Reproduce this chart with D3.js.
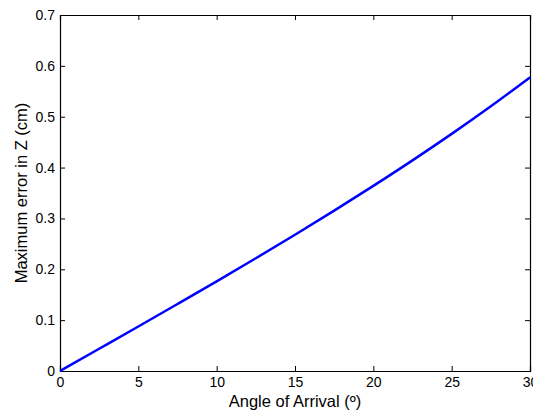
<!DOCTYPE html>
<html>
<head>
<meta charset="utf-8">
<script src="https://cdn.jsdelivr.net/npm/d3@7"></script>
<style>
  body { margin: 0; background: #fff; }
  text { font-family: "Liberation Sans", Arial, sans-serif; }
</style>
</head>
<body>
<div id="chart"></div>
<script>
// Max error in Z vs angle of arrival

// values
var angles = [0, 2.5, 5, 7.5, 10, 12.5, 15, 17.5, 20, 22.5, 25, 27.5, 30];
var errors = [0, 0.0437, 0.0875, 0.1317, 0.1763, 0.2217, 0.2679, 0.3153, 0.364, 0.4142, 0.4663, 0.5206, 0.5774];
var xTicks = [0, 5, 10, 15, 20, 25, 30];
var yTicks = [0, 0.1, 0.2, 0.3, 0.4, 0.5, 0.6, 0.7];

var svgWidth = 533;
var svgHeight = 417;
var margin = { top: 15, right: 3, bottom: 46, left: 60 };
var width = svgWidth - margin.left - margin.right;
var height = svgHeight - margin.top - margin.bottom;

var svg = d3.select("#chart")
  .append("svg")
  .attr("width", svgWidth)
  .attr("height", svgHeight);

var chartGroup = svg.append("g")
  .attr("transform", `translate(${margin.left},${margin.top})`);

var xScale = d3.scaleLinear().domain([0, 30]).range([0, width]);
var yScale = d3.scaleLinear().domain([0, 0.7]).range([height, 0]);

// axes, ticks pointing inward like matlab
var bottomAxis = d3.axisBottom(xScale).tickValues(xTicks).tickSize(-5).tickPadding(6).tickFormat(d3.format("d"));
var leftAxis = d3.axisLeft(yScale).tickValues(yTicks).tickSize(-5).tickPadding(5).tickFormat(d => d === 0 ? "0" : d3.format(".1f")(d));
var topAxis = d3.axisTop(xScale).tickValues(xTicks).tickSize(-5).tickFormat("");
var rightAxis = d3.axisRight(yScale).tickValues(yTicks).tickSize(-5).tickFormat("");

function styleAxis(g) {
  g.select(".domain").attr("stroke", "#000").attr("stroke-width", 1.2);
  g.selectAll(".tick line").attr("stroke", "#000");
  g.selectAll(".tick text").attr("fill", "#000").style("font-size", "14px");
}

chartGroup.append("g")
  .attr("transform", `translate(0, ${height})`)
  .call(bottomAxis).call(styleAxis);
chartGroup.append("g").call(leftAxis).call(styleAxis);
chartGroup.append("g").call(topAxis).call(styleAxis);
chartGroup.append("g")
  .attr("transform", `translate(${width}, 0)`)
  .call(rightAxis).call(styleAxis);

// the curve
var line = d3.line()
  .x((d, i) => xScale(angles[i]))
  .y(d => yScale(d))
  .curve(d3.curveMonotoneX);

chartGroup.append("path")
  .datum(errors)
  .attr("d", line)
  .attr("fill", "none")
  .attr("stroke", "#0000ff")
  .attr("stroke-width", 2.5);

// axis labels
chartGroup.append("text")
  .attr("x", width / 2)
  .attr("y", height + 36)
  .attr("text-anchor", "middle")
  .style("font-size", "16.5px")
  .text("Angle of Arrival (º)");

chartGroup.append("text")
  .attr("transform", "rotate(-90)")
  .attr("x", -height / 2)
  .attr("y", -33)
  .attr("text-anchor", "middle")
  .style("font-size", "16.5px")
  .text("Maximum error in Z (cm)");
</script>
</body>
</html>
